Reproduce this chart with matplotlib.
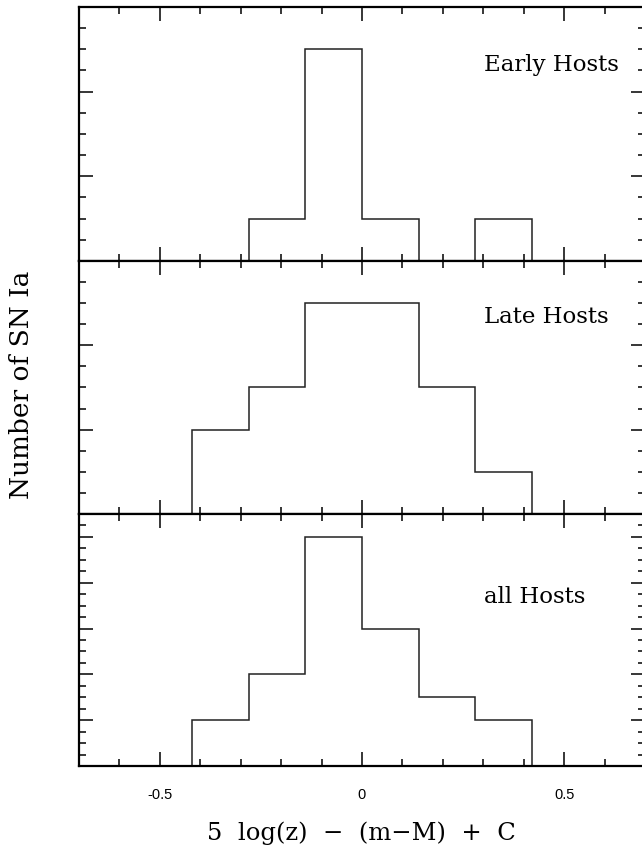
import matplotlib
matplotlib.use("Agg")
import matplotlib.pyplot as plt
from matplotlib.ticker import MultipleLocator, NullFormatter, FixedFormatter, FixedLocator

# ---- data ----
bin_edges = [-0.42, -0.28, -0.14, 0.0, 0.14, 0.28, 0.42]
early_counts = [0, 1, 5, 1, 0, 1]
late_counts = [2, 3, 5, 5, 3, 1]
all_counts = [2, 4, 10, 6, 3, 2]
panel_names = ["Early Hosts", "Late Hosts", "all Hosts"]
y_limits = [6, 6, 11]
x_major_ticks = [-0.5, 0.0, 0.5]
x_tick_labels = ["-0.5", "0", "0.5"]

W, H = 642, 851
fig = plt.figure(figsize=(W / 100, H / 100), dpi=100)

left = 79 / W
right = 645 / W
bounds = [(7, 261), (261, 514), (514, 766)]
series = [early_counts, late_counts, all_counts]
label_y = [65, 317, 597]
serif = ["DejaVu Serif"]

for i, ((top_px, bot_px), counts, name, ylim, ly) in enumerate(
        zip(bounds, series, panel_names, y_limits, label_y)):
    ax = fig.add_axes([left, 1 - bot_px / H, right - left, (bot_px - top_px) / H])
    ax.stairs(counts, bin_edges, color="#222222", linewidth=1.1, baseline=0)
    ax.set_xlim(-0.7, 0.7)
    ax.set_ylim(0, ylim)
    ax.xaxis.set_major_locator(FixedLocator(x_major_ticks))
    ax.xaxis.set_minor_locator(MultipleLocator(0.1))
    ax.yaxis.set_major_locator(MultipleLocator(2))
    ax.yaxis.set_minor_locator(MultipleLocator(0.5))
    ax.tick_params(which="both", direction="in", top=True, right=True, colors="black", width=1.1)
    ax.tick_params(which="major", length=10)
    ax.tick_params(which="minor", length=5)
    ax.yaxis.set_major_formatter(NullFormatter())
    if i < 2:
        ax.xaxis.set_major_formatter(NullFormatter())
    else:
        ax.xaxis.set_major_formatter(FixedFormatter(x_tick_labels))
        ax.tick_params(axis="x", which="major", pad=16, labelsize=10.5)
        for lab in ax.get_xticklabels():
            lab.set_family("Liberation Sans")
    for sp in ax.spines.values():
        sp.set_linewidth(1.6)
    fig.text(484 / W, 1 - ly / H, name, family=serif, fontsize=16.5,
             va="center", ha="left")

fig.text(22 / W, 1 - 385 / H, "Number of SN Ia", rotation=90, family=serif, fontsize=19,
         ha="center", va="center")
fig.text(361 / W, 1 - 833 / H, "5  log(z)  \u2212  (m\u2212M)  +  C", family=serif, fontsize=17.5,
         ha="center", va="center")

fig.savefig("out.png", dpi=100)
